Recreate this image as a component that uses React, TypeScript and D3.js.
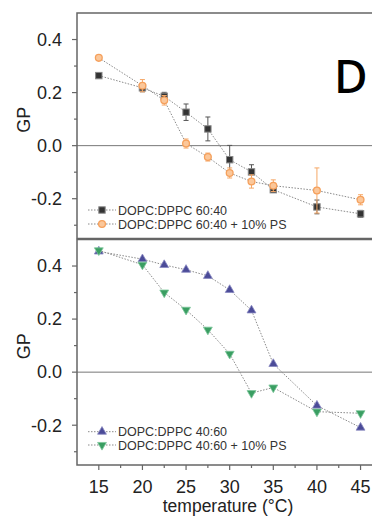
import * as d3 from 'd3'

const temps = [15, 20, 22.5, 25, 27.5, 30, 32.5, 35, 40, 45]

// top panel
const gp6040 = [0.264, 0.218, 0.186, 0.126, 0.063, -0.053, -0.099, -0.166, -0.231, -0.257]
const err6040 = [0.005, 0.015, 0.015, 0.031, 0.045, 0.054, 0.027, 0.01, 0.026, 0.013]
const gp6040ps = [0.331, 0.226, 0.171, 0.008, -0.043, -0.103, -0.135, -0.151, -0.169, -0.204]
const err6040ps = [0.005, 0.023, 0.018, 0.017, 0.015, 0.019, 0.025, 0.022, 0.085, 0.019]

// bottom panel
const gp4060 = [0.455, 0.426, 0.404, 0.386, 0.363, 0.31, 0.233, 0.031, -0.126, -0.209]
const gp4060ps = [0.459, 0.405, 0.3, 0.235, 0.16, 0.069, -0.079, -0.058, -0.149, -0.155]

const yMajor = [-0.2, 0, 0.2, 0.4]
const yMinor = [-0.3, -0.1, 0.1, 0.3]
const xMajor = [15, 20, 25, 30, 35, 40, 45]
const xMinor = [17.5, 22.5, 27.5, 32.5, 37.5, 42.5]

const font = 'Liberation Sans, Arial, sans-serif'
const frameCol = '#666'

const x = d3.scaleLinear().domain([12.5, 47]).range([77, 378])
const yTop = d3.scaleLinear().domain([-0.35, 0.5]).range([238.5, 13])
const yBot = d3.scaleLinear().domain([-0.35, 0.5]).range([465, 239.5])

type Series = { values: number[]; err?: number[]; marker: string; color: string; stroke: string; label: string }

function Marker({ kind, cx, cy, color, stroke }: { kind: string; cx: number; cy: number; color: string; stroke: string }) {
  if (kind === 'square') return <rect x={cx - 3.2} y={cy - 3.2} width={6.4} height={6.4} fill={color} stroke={stroke} strokeWidth={1} />
  if (kind === 'circle') return <circle cx={cx} cy={cy} r={3.4} fill="#fbc79a" stroke={color} strokeWidth={1.3} />
  const sym = d3.symbol().type(d3.symbolTriangle).size(34)()
  const rot = kind === 'down' ? 180 : 0
  return <path d={sym ?? ''} transform={`translate(${cx},${cy}) rotate(${rot})`} fill={color} stroke={stroke} strokeWidth={0.8} />
}

function Panel({ y, series, legendY }: { y: d3.ScaleLinear<number, number>; series: Series[]; legendY: number[] }) {
  const [y0, y1] = y.range()
  const line = d3.line<number>().x((_, i) => x(temps[i])).y((d) => y(d))
  return (
    <g>
      <line x1={x.range()[0]} x2={x.range()[1]} y1={y(0)} y2={y(0)} stroke="#777" strokeWidth={1} />
      {series.map((s, k) => (
        <g key={k}>
          <path d={line(s.values) ?? ''} fill="none" stroke="#8a8a8a" strokeWidth={1} strokeDasharray="1.5,1.5" />
          {s.err && s.values.map((v, i) => (
            <g key={i} stroke={s.marker === 'circle' ? '#f5a766' : '#555'} strokeWidth={1}>
              <line x1={x(temps[i])} x2={x(temps[i])} y1={y(v - s.err![i])} y2={y(v + s.err![i])} />
              <line x1={x(temps[i]) - 2.5} x2={x(temps[i]) + 2.5} y1={y(v - s.err![i])} y2={y(v - s.err![i])} />
              <line x1={x(temps[i]) - 2.5} x2={x(temps[i]) + 2.5} y1={y(v + s.err![i])} y2={y(v + s.err![i])} />
            </g>
          ))}
          {s.values.map((v, i) => (
            <Marker key={i} kind={s.marker} cx={x(temps[i])} cy={y(v)} color={s.color} stroke={s.stroke} />
          ))}
          <line x1={88} x2={116} y1={legendY[k]} y2={legendY[k]} stroke="#8a8a8a" strokeWidth={1} strokeDasharray="1.5,1.5" />
          <Marker kind={s.marker} cx={102} cy={legendY[k]} color={s.color} stroke={s.stroke} />
          <text x={118} y={legendY[k]} dy="0.36em" fontSize={12.5} fontFamily={font} fill="#333">{s.label}</text>
        </g>
      ))}
      {/* frame */}
      <rect x={77} y={y1} width={310} height={y0 - y1} fill="none" stroke={frameCol} strokeWidth={1.5} />
      {yMajor.map((t) => (
        <g key={t}>
          <line x1={72} x2={77} y1={y(t)} y2={y(t)} stroke={frameCol} strokeWidth={1.2} />
          <text x={62} y={y(t)} dy="0.35em" textAnchor="end" fontSize={18} fontFamily={font} fill="#222">{t === 0 ? '0.0' : d3.format('.1f')(t).replace('−', '-')}</text>
        </g>
      ))}
      {yMinor.map((t) => (
        <line key={t} x1={74} x2={77} y1={y(t)} y2={y(t)} stroke={frameCol} strokeWidth={1.2} />
      ))}
      <text transform={`translate(30,${(y0 + y1) / 2 - 6}) rotate(-90)`} textAnchor="middle" fontSize={18} fontFamily={font} fill="#222">GP</text>
    </g>
  )
}

export default function App() {
  const topSeries: Series[] = [
    { values: gp6040, err: err6040, marker: 'square', color: '#333', stroke: '#888', label: 'DOPC:DPPC 60:40' },
    { values: gp6040ps, err: err6040ps, marker: 'circle', color: '#f5a05c', stroke: '#f5a05c', label: 'DOPC:DPPC 60:40 + 10% PS' },
  ]
  const botSeries: Series[] = [
    { values: gp4060, marker: 'up', color: '#4b4b98', stroke: '#8888c0', label: 'DOPC:DPPC 40:60' },
    { values: gp4060ps, marker: 'down', color: '#3a9e62', stroke: '#7cc69a', label: 'DOPC:DPPC 40:60 + 10% PS' },
  ]
  const yb = yBot.range()[0]
  return (
    <svg width={372} height={518} style={{ position: 'absolute', left: 0, top: 0, background: '#fff' }}>
      <Panel y={yTop} series={topSeries} legendY={[210, 224]} />
      <Panel y={yBot} series={botSeries} legendY={[431.7, 445]} />
      {xMajor.map((t) => (
        <g key={t}>
          <line x1={x(t)} x2={x(t)} y1={yb} y2={yb + 5} stroke={frameCol} strokeWidth={1.2} />
          <text x={x(t)} y={yb + 22} dy="0.35em" textAnchor="middle" fontSize={18} fontFamily={font} fill="#222">{t}</text>
        </g>
      ))}
      {xMinor.map((t) => (
        <line key={t} x1={x(t)} x2={x(t)} y1={yb} y2={yb + 3} stroke={frameCol} strokeWidth={1.2} />
      ))}
      <text x={228} y={512} textAnchor="middle" fontSize={17.5} fontFamily={font} fill="#222">temperature (°C)</text>
      <text x={334} y={93} fontSize={46} fontWeight={500} fontFamily="Noto Sans, sans-serif" fill="#000">D</text>
    </svg>
  )
}
